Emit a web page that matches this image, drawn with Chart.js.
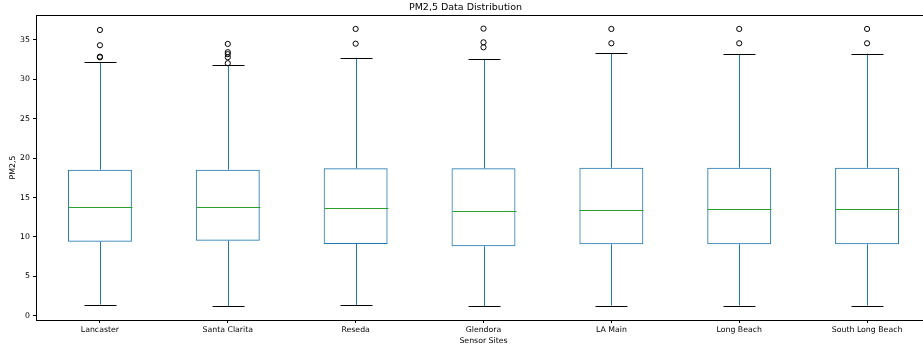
<!DOCTYPE html>
<html>
<head>
<meta charset="utf-8">
<script src="https://cdn.jsdelivr.net/npm/chart.js@4.4.1/dist/chart.umd.min.js"></script>
<style>
  html, body { margin: 0; padding: 0; background: #fff; overflow: hidden; }
  #wrap { width: 940px; height: 349px; }
</style>
</head>
<body>
<div id="wrap"><canvas id="box" width="940" height="349"></canvas></div>
<script>
// box plot stats
var sites = ["Lancaster", "Santa Clarita", "Reseda", "Glendora", "LA Main", "Long Beach", "South Long Beach"];
var whiskerLow  = [1.40, 1.23, 1.36, 1.23, 1.27, 1.27, 1.27];
var q1          = [9.39, 9.52, 9.10, 8.81, 9.06, 9.06, 9.06];
var median      = [13.76, 13.80, 13.63, 13.25, 13.46, 13.50, 13.50];
var q3          = [18.53, 18.53, 18.71, 18.71, 18.79, 18.79, 18.79];
var whiskerHigh = [32.20, 31.83, 32.75, 32.60, 33.30, 33.18, 33.26];
var outliers = [
    [36.27, 34.33, 32.88, 32.80],
    [34.50, 33.45, 33.20, 32.80, 32.05],
    [36.40, 34.53],
    [36.44, 34.70, 34.07],
    [36.40, 34.58],
    [36.40, 34.58],
    [36.40, 34.58]
];
var yTicks = [0, 5, 10, 15, 20, 25, 30, 35];

var blue = "#1f77b4";
var green = "#2ca02c";
var font = "'DejaVu Sans', sans-serif";

var flierPoints = [];
outliers.forEach(function(list, i){
    list.forEach(function(v){ flierPoints.push({x: sites[i], y: v}); });
});

var boxParts = {
    id: "boxParts",
    afterDatasetsDraw: function(chart){
        var ctx = chart.ctx, xs = chart.scales.x, ys = chart.scales.y;
        var step = xs.getPixelForValue(1) - xs.getPixelForValue(0);
        ctx.save();
        ctx.lineWidth = 1;
        for (var i = 0; i < sites.length; i++) {
            var cx = Math.round(xs.getPixelForValue(i)) + 0.5;
            var line = function(x1, y1, x2, y2, c){
                ctx.strokeStyle = c;
                ctx.beginPath(); ctx.moveTo(x1, y1); ctx.lineTo(x2, y2); ctx.stroke();
            };
            // whiskers
            line(cx, ys.getPixelForValue(q3[i]), cx, ys.getPixelForValue(whiskerHigh[i]), blue);
            line(cx, ys.getPixelForValue(q1[i]), cx, ys.getPixelForValue(whiskerLow[i]), blue);
            // caps
            var cw = step * 0.125;
            var yh = Math.round(ys.getPixelForValue(whiskerHigh[i])) + 0.5;
            var yl = Math.round(ys.getPixelForValue(whiskerLow[i])) + 0.5;
            line(cx - cw, yh, cx + cw, yh, "#000");
            line(cx - cw, yl, cx + cw, yl, "#000");
            // median
            var bw = step * 0.25;
            var ym = Math.round(ys.getPixelForValue(median[i])) + 0.5;
            line(cx - bw, ym, cx + bw, ym, green);
        }
        ctx.restore();
    },
    afterDraw: function(chart){
        var a = chart.chartArea, ctx = chart.ctx;
        ctx.save();
        ctx.strokeStyle = "#000";
        ctx.lineWidth = 1;
        ctx.strokeRect(Math.round(a.left) + 0.5, Math.round(a.top) + 0.5,
                       Math.round(a.right - a.left), Math.round(a.bottom - a.top));
        ctx.restore();
    }
};

new Chart(document.getElementById("box").getContext("2d"), {
    data: {
        labels: sites,
        datasets: [{
            type: "bar",
            label: "box",
            data: sites.map(function(s, i){ return [q1[i], q3[i]]; }),
            backgroundColor: "rgba(0,0,0,0)",
            borderColor: blue,
            borderWidth: 1,
            borderSkipped: false,
            barPercentage: 0.5,
            categoryPercentage: 1.0
        }, {
            type: "scatter",
            label: "fliers",
            data: flierPoints,
            pointStyle: "circle",
            pointRadius: 2.6,
            pointBorderWidth: 1,
            pointBorderColor: "#000",
            pointBackgroundColor: "rgba(0,0,0,0)"
        }]
    },
    options: {
        responsive: false,
        animation: false,
        devicePixelRatio: 1,
        layout: { padding: { left: 0, right: 9, top: 0, bottom: 0 } },
        plugins: {
            legend: { display: false },
            tooltip: { enabled: false },
            title: {
                display: true,
                text: "PM2,5 Data Distribution",
                color: "#000",
                font: { family: font, size: 9.5, weight: "normal" },
                padding: { top: 1.5, bottom: 2.1 }
            }
        },
        scales: {
            x: {
                type: "category",
                offset: true,
                afterFit: function(s){ s.height = 29; },
                grid: { display: true, offset: false, drawOnChartArea: false, drawTicks: true, tickLength: 3, color: "#000" },
                border: { display: false },
                ticks: { color: "#000", padding: 2, maxRotation: 0, autoSkip: false, font: { family: font, size: 7.8 } },
                title: { display: true, text: "Sensor Sites", color: "#000", padding: { top: 0, bottom: 3 }, font: { family: font, size: 7.8 } }
            },
            y: {
                type: "linear",
                min: -0.55,
                max: 38.17,
                afterFit: function(s){ s.width = 36; },
                afterBuildTicks: function(s){ s.ticks = yTicks.map(function(v){ return {value: v}; }); },
                grid: { display: true, drawOnChartArea: false, drawTicks: true, tickLength: 3, color: "#000" },
                border: { display: false },
                ticks: { color: "#000", padding: 3, font: { family: font, size: 7.8 } },
                title: { display: true, text: "PM2,5", color: "#000", padding: { top: 8, bottom: 0 }, font: { family: font, size: 7.8 } }
            }
        }
    },
    plugins: [boxParts]
});
</script>
</body>
</html>
